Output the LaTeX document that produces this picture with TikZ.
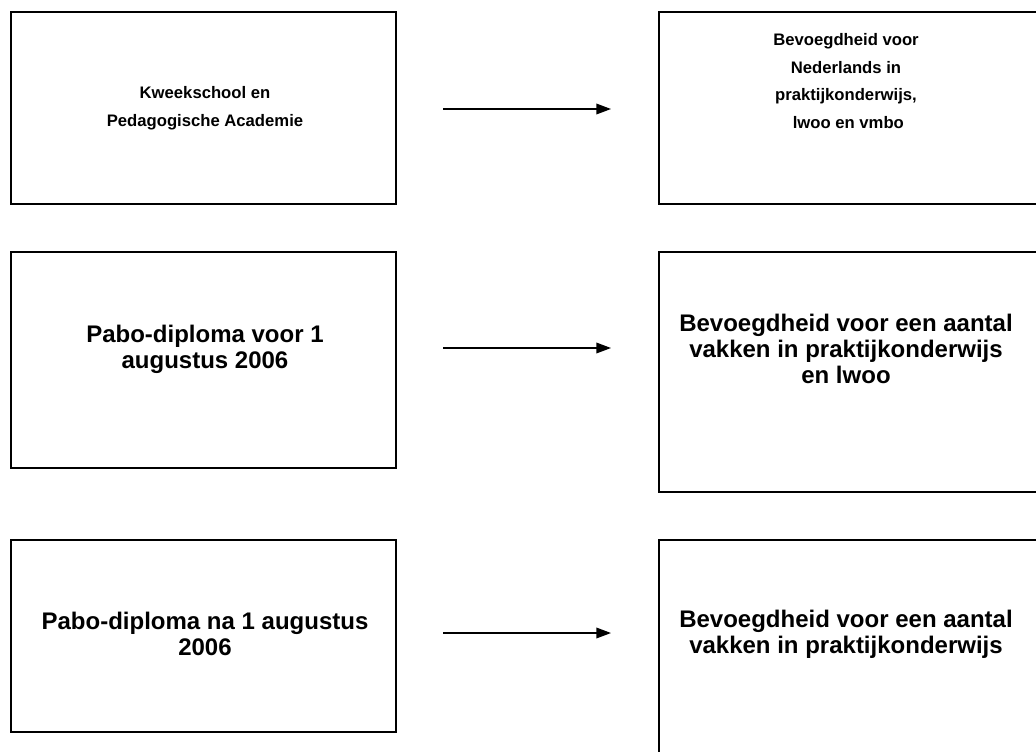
\documentclass[tikz,border=0pt]{standalone}
\usepackage{fontspec}
\setmainfont{Liberation Sans}
\usetikzlibrary{positioning,arrows.meta}

\begin{document}
\begin{tikzpicture}[x=0.75pt,y=-0.75pt,
  box/.style={draw=black,line width=1.5pt,minimum width=288.4pt},
  txt/.style={font=\bfseries\fontsize{12.5}{20.6}\selectfont,align=center,inner sep=0pt},
  bigtxt/.style={font=\bfseries\fontsize{18}{19.7}\selectfont,align=center,inner sep=0pt},
  arr/.style={-{Triangle[length=11pt,width=8pt]},line width=1pt}]
  \useasboundingbox (0,0) rectangle (1036,751);

  % the left column
  \node[box,minimum height=144pt] (kweek) at (203.75,108) {};
  \node[box,minimum height=162pt] (pabovoor) at (203.75,360) {};
  \node[box,minimum height=144pt] (pabona) at (203.75,636) {};
  % the right column
  \node[box,minimum height=144pt] (bevned) at (851.75,108) {};
  \node[box,minimum height=180pt] (bevlwoo) at (851.75,372) {};
  \node[box,minimum height=180pt] (bevpro) at (851.75,660) {};

  % the texts
  \node[txt] (kweektxt) at (205,108) {Kweekschool en\\Pedagogische Academie};
  \node[bigtxt] (pabovoortxt) at (205,349) {Pabo-diploma voor 1\\augustus 2006};
  \node[bigtxt] (pabonatxt) at (205,634) {Pabo-diploma na 1 augustus\\2006};
  \node[txt] (bevnedtxt) at (846,81) {Bevoegdheid voor\\Nederlands in\\praktijkonderwijs,\\ \ lwoo en vmbo};
  \node[bigtxt] (bevlwootxt) at (846,349) {Bevoegdheid voor een aantal\\vakken in praktijkonderwijs\\en lwoo};
  \node[bigtxt] (bevprotxt) at (846,634) {Bevoegdheid voor een aantal\\vakken in praktijkonderwijs};

  % the arrows
  \coordinate (s1) at (443,109);
  \coordinate (e1) at (611,109);
  \coordinate (s2) at (443,348);
  \coordinate (e2) at (611,348);
  \coordinate (s3) at (443,633);
  \coordinate (e3) at (611,633);
  \draw[arr] (s1) -- (e1);
  \draw[arr] (s2) -- (e2);
  \draw[arr] (s3) -- (e3);
\end{tikzpicture}
\end{document}
